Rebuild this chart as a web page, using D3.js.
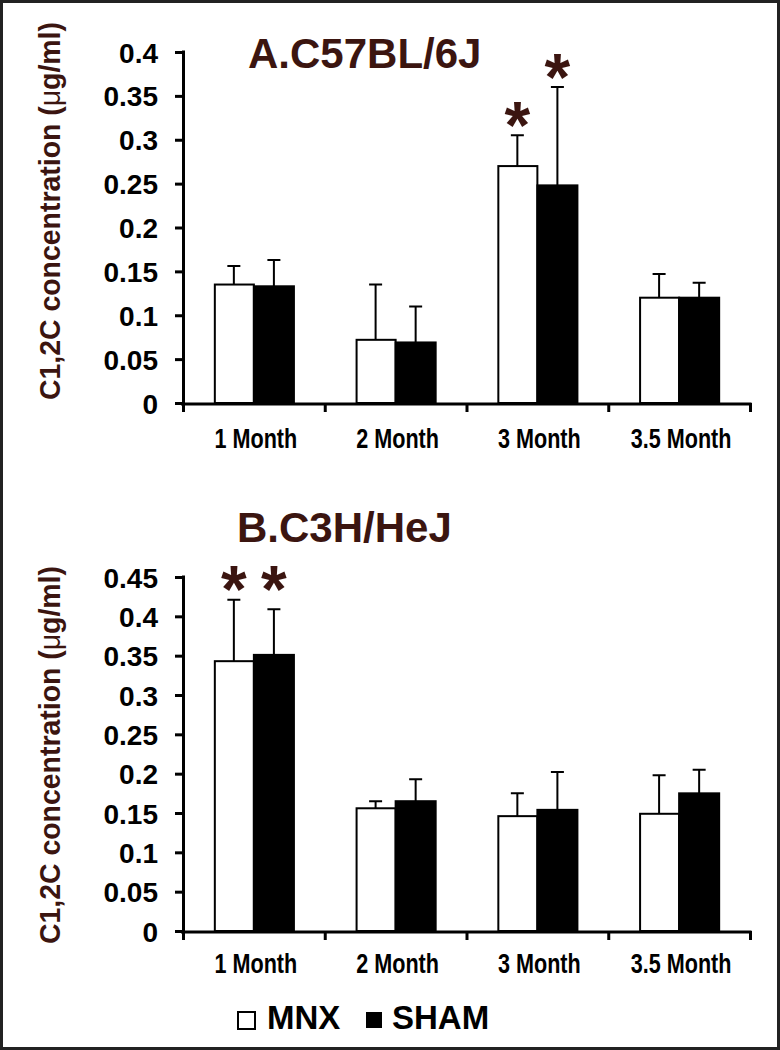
<!DOCTYPE html>
<html>
<head>
<meta charset="utf-8">
<script src="https://cdn.jsdelivr.net/npm/d3@7"></script>
<style>
  html, body { margin: 0; padding: 0; background: #fff; }
  svg { display: block; }
  text { font-family: Arial, "Liberation Sans", sans-serif; }
</style>
</head>
<body>
<div id="chart"></div>
<script>
// ---------------- DATA ----------------
const categories = ["1 Month", "2 Month", "3 Month", "3.5 Month"];
const seriesNames = ["MNX", "SHAM"];

// Panel A: C57BL/6J (mean and upper error)
const c57MnxMean = [0.135, 0.072, 0.270, 0.120];
const c57MnxErr  = [0.021, 0.063, 0.035, 0.027];
const c57ShamMean = [0.133, 0.069, 0.248, 0.120];
const c57ShamErr  = [0.030, 0.041, 0.112, 0.017];
const c57Sig = [[false, false], [false, false], [true, true], [false, false]];
const c57Ticks = [0, 0.05, 0.1, 0.15, 0.2, 0.25, 0.3, 0.35, 0.4];
const c57TickLabels = ["0", "0.05", "0.1", "0.15", "0.2", "0.25", "0.3", "0.35", "0.4"];

// Panel B: C3H/HeJ
const c3hMnxMean = [0.343, 0.156, 0.146, 0.149];
const c3hMnxErr  = [0.078, 0.009, 0.029, 0.049];
const c3hShamMean = [0.351, 0.165, 0.154, 0.175];
const c3hShamErr  = [0.058, 0.028, 0.048, 0.030];
const c3hSig = [[true, true], [false, false], [false, false], [false, false]];
const c3hTicks = [0, 0.05, 0.1, 0.15, 0.2, 0.25, 0.3, 0.35, 0.4, 0.45];
const c3hTickLabels = ["0", "0.05", "0.1", "0.15", "0.2", "0.25", "0.3", "0.35", "0.4", "0.45"];

const titleA = "A.C57BL/6J";
const titleB = "B.C3H/HeJ";
const yLabelMain = "C1,2C concentration (";
const yLabelMu = "\u03bc";
const yLabelEnd = "g/ml)";

// ---------------- STYLE ----------------
const W = 780, H = 1050;
const brown = "#3b1510";

const svg = d3.select("#chart").append("svg")
  .attr("width", W).attr("height", H);

svg.append("rect").attr("x", 0).attr("y", 0).attr("width", W).attr("height", H).attr("fill", "#fff");
svg.append("rect").attr("x", 1.5).attr("y", 1.5).attr("width", W - 3).attr("height", H - 3)
  .attr("fill", "none").attr("stroke", "#222").attr("stroke-width", 3);

function panel(opts) {
  const { mnx, mnxErr, sham, shamErr, sig, ticks, tickLabels, domainMax,
          yTop, yBottom, title, titleX, titleY, labelCenterY, starMode, xLabelY } = opts;

  const x0 = d3.scaleBand().domain(categories).range([183, 750]).paddingInner(0).paddingOuter(0);
  const x1 = d3.scaleBand().domain(seriesNames).range([0, x0.bandwidth()]).paddingInner(0).paddingOuter(0.77);
  const y = d3.scaleLinear().domain([0, domainMax]).range([yBottom, yTop]);

  const g = svg.append("g");

  const rows = categories.map((c, i) => ({
    cat: c,
    vals: [
      { s: "MNX", v: mnx[i], e: mnxErr[i], sig: sig[i][0] },
      { s: "SHAM", v: sham[i], e: shamErr[i], sig: sig[i][1] }
    ]
  }));

  // y axis
  const yAxis = d3.axisLeft(y).tickValues(ticks)
    .tickFormat((d, i) => tickLabels[i]).tickSize(8).tickSizeOuter(0).tickPadding(17);
  const ya = g.append("g").attr("transform", "translate(183,0)").call(yAxis);
  ya.select(".domain").attr("stroke", "#000").attr("stroke-width", 3)
    .attr("d", `M0.5,${yTop - 1.5}V${yBottom + 1.5}`);
  ya.selectAll(".tick line").attr("stroke", "#000").attr("stroke-width", 3);
  ya.selectAll(".tick text").attr("fill", "#000").attr("font-size", 28)
    .attr("font-weight", "bold").attr("font-family", "Arial, 'Liberation Sans', sans-serif")
    .attr("dy", "0.36em");

  const grp = g.selectAll(".grp").data(rows).enter().append("g")
    .attr("transform", d => `translate(${x0(d.cat)},0)`);

  grp.selectAll(".err").data(d => d.vals).enter().append("path")
    .attr("d", d => {
      const cx = x1(d.s) + x1.bandwidth() / 2;
      const yt = y(d.v + d.e), yb = y(d.v);
      return `M${cx},${yb}V${yt}M${cx - 6.5},${yt}H${cx + 6.5}`;
    })
    .attr("fill", "none").attr("stroke", "#000").attr("stroke-width", 2);

  grp.selectAll(".bar").data(d => d.vals).enter().append("rect")
    .attr("x", d => x1(d.s) + (d.s === "MNX" ? 1 : 0))
    .attr("y", d => y(d.v))
    .attr("width", d => x1.bandwidth() - (d.s === "MNX" ? 1 : 0))
    .attr("height", d => y(0) - y(d.v))
    .attr("fill", d => d.s === "MNX" ? "#fff" : "#000")
    .attr("stroke", "#000").attr("stroke-width", 2);

  // significance stars
  grp.each(function (d) {
    const gg = d3.select(this);
    const maxTop = d3.max(d.vals, v => v.v + v.e);
    d.vals.forEach(v => {
      if (!v.sig) return;
      const cx = x1(v.s) + x1.bandwidth() / 2;
      const cy = starMode === "group" ? y(maxTop) - 25 : y(v.v + v.e) - 24;
      gg.append("text").attr("x", cx).attr("y", cy + 37)
        .attr("text-anchor", "middle").attr("font-size", 66).attr("font-weight", "bold")
        .attr("fill", brown).text("*");
    });
  });

  // x axis
  const xa = g.append("g");
  xa.append("line").attr("x1", 181).attr("x2", 751.5).attr("y1", yBottom + 1).attr("y2", yBottom + 1)
    .attr("stroke", "#000").attr("stroke-width", 3);
  const bounds = categories.map(c => x0(c)).concat([x0.range()[1]]);
  xa.selectAll(".xt").data(bounds).enter().append("line")
    .attr("x1", d => d + 0.5).attr("x2", d => d + 0.5)
    .attr("y1", yBottom).attr("y2", yBottom + 9)
    .attr("stroke", "#000").attr("stroke-width", 3);
  xa.selectAll(".xl").data(categories).enter().append("text")
    .attr("transform", d => `translate(${x0(d) + x0.bandwidth() / 2 + 2},${xLabelY}) scale(0.8,1)`)
    .attr("text-anchor", "middle").attr("font-size", 27).attr("font-weight", "bold")
    .attr("fill", "#000").text(d => d);

  // title
  g.append("text").attr("x", titleX).attr("y", titleY)
    .attr("font-size", 42).attr("font-weight", "bold").attr("fill", brown).text(title);

  // y label
  const yl = g.append("text")
    .attr("transform", `translate(60,${labelCenterY}) rotate(-90)`)
    .attr("text-anchor", "middle").attr("font-size", 29).attr("font-weight", "bold")
    .attr("fill", brown)
    .attr("textLength", 378).attr("lengthAdjust", "spacingAndGlyphs");
  yl.append("tspan").text(yLabelMain);
  yl.append("tspan").attr("font-weight", "normal").text(yLabelMu);
  yl.append("tspan").text(yLabelEnd);
}

panel({
  mnx: c57MnxMean, mnxErr: c57MnxErr, sham: c57ShamMean, shamErr: c57ShamErr, sig: c57Sig,
  ticks: c57Ticks, tickLabels: c57TickLabels, domainMax: 0.4,
  yTop: 52, yBottom: 403, title: titleA, titleX: 248, titleY: 68,
  labelCenterY: 211, starMode: "bar", xLabelY: 448
});

panel({
  mnx: c3hMnxMean, mnxErr: c3hMnxErr, sham: c3hShamMean, shamErr: c3hShamErr, sig: c3hSig,
  ticks: c3hTicks, tickLabels: c3hTickLabels, domainMax: 0.45,
  yTop: 577, yBottom: 931, title: titleB, titleX: 237, titleY: 542,
  labelCenterY: 755, starMode: "group", xLabelY: 973
});

// legend
const legendItems = seriesNames.map((s, i) => ({ s, i }));
const lg = svg.append("g");
const legendBoxX = [238, 366];
const legendTextX = [267, 392];
lg.selectAll(".lb").data(legendItems).enter().append("rect")
  .attr("x", d => legendBoxX[d.i]).attr("y", 1012)
  .attr("width", d => d.s === "MNX" ? 17 : 16).attr("height", d => d.s === "MNX" ? 17 : 16)
  .attr("fill", d => d.s === "MNX" ? "#fff" : "#000")
  .attr("stroke", "#000").attr("stroke-width", d => d.s === "MNX" ? 2 : 0);
lg.selectAll(".lt").data(legendItems).enter().append("text")
  .attr("x", d => legendTextX[d.i]).attr("y", 1029)
  .attr("font-size", 33).attr("font-weight", "bold").attr("fill", "#000")
  .text(d => d.s);
</script>
</body>
</html>
